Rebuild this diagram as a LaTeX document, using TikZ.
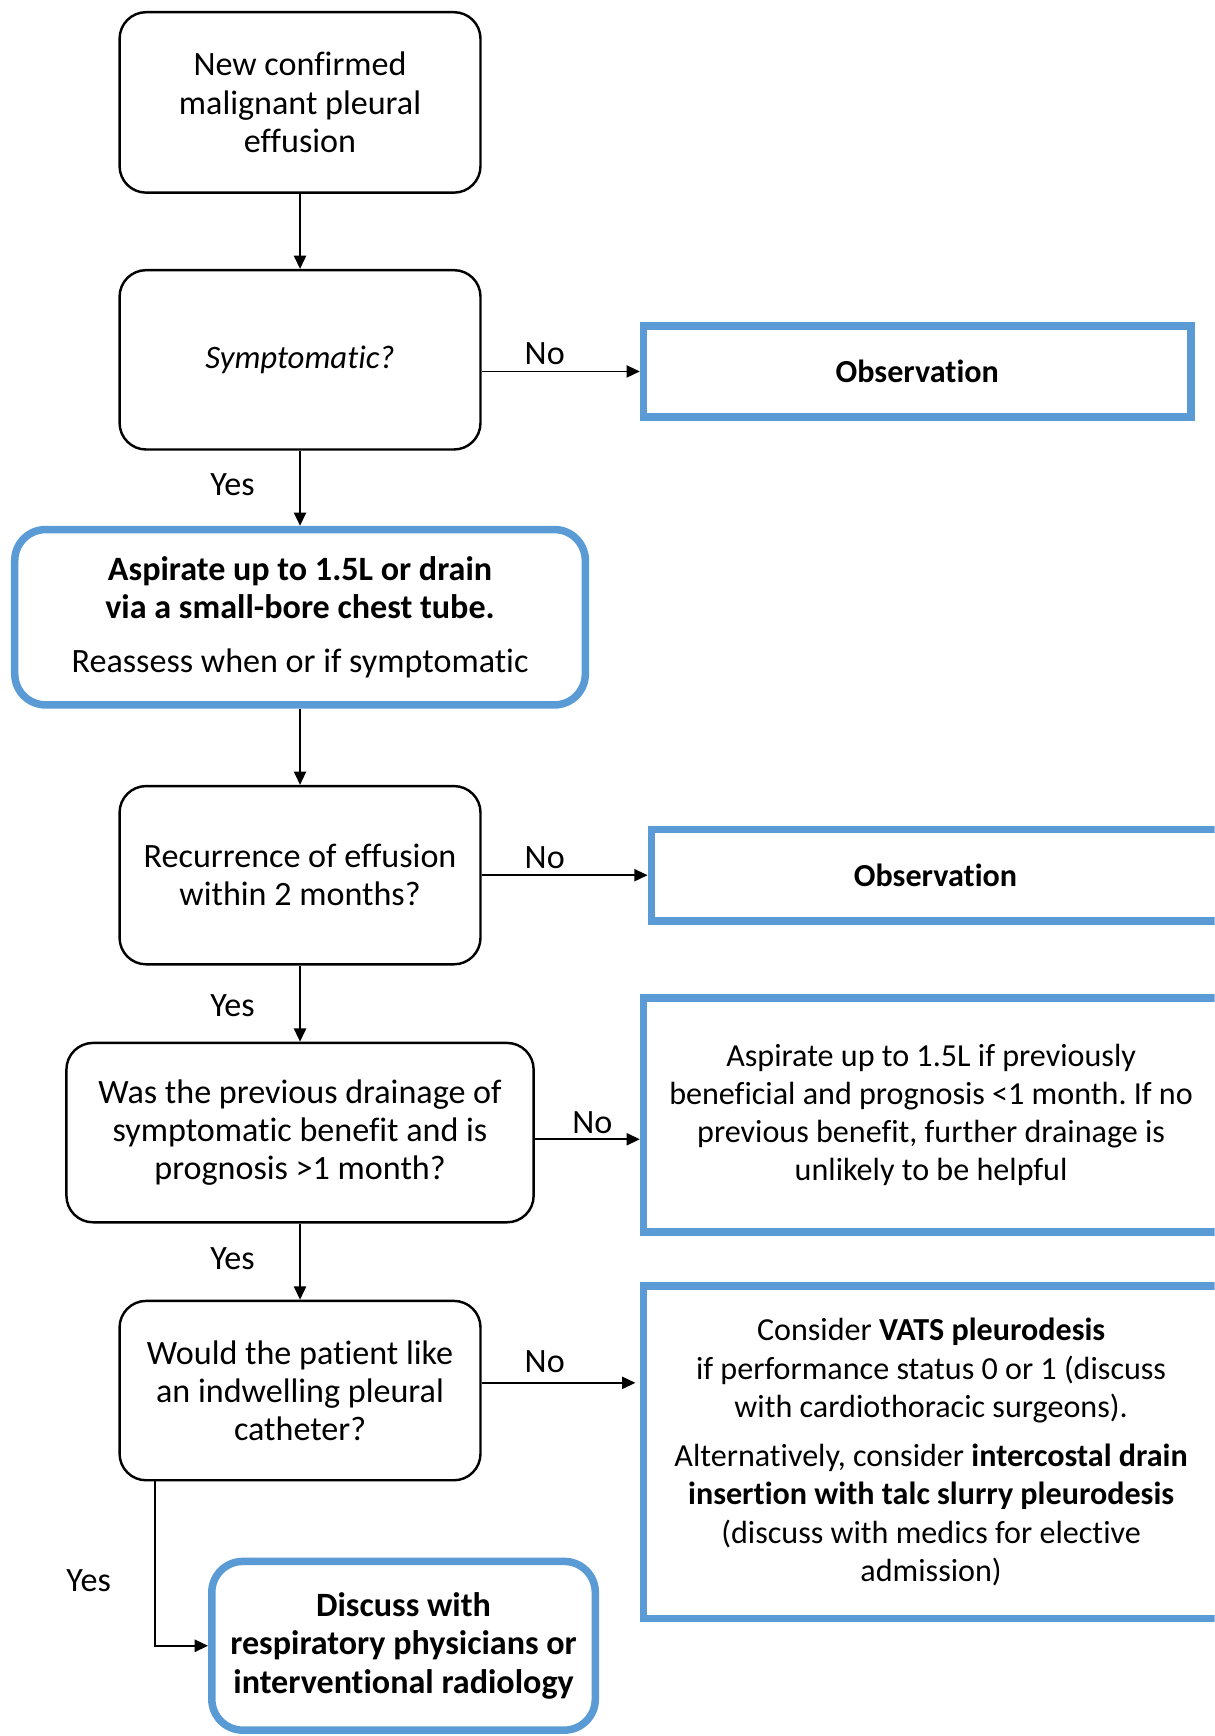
\documentclass[tikz,border=0pt]{standalone}
\usepackage{fontspec}
\setmainfont{Carlito}[Ligatures={NoCommon}]
\usetikzlibrary{arrows.meta,calc}
\definecolor{bl}{HTML}{5B9BD5}
\frenchspacing
\begin{document}
\begin{tikzpicture}[x=0.5pt,y=-0.5pt,
 every node/.style={font=\fontsize{15.4}{17.25}\selectfont},
 rfont/.style={font=\fontsize{14.5}{17.25}\selectfont},
 rbox/.style={draw, line width=1.1pt, rounded corners=12pt, align=center, inner sep=0pt},
 bbox/.style={draw=bl, line width=3.4pt, rounded corners=14pt, align=center, inner sep=0pt},
 sbox/.style={draw=bl, line width=3.4pt, align=center, inner sep=0pt, rfont},
 arr/.style={line width=0.8pt, -{Triangle[length=6pt,width=5.5pt]}},
 lbl/.style={inner sep=0pt}]
\useasboundingbox (0,0) rectangle (1097,1568);
\clip (0,0) rectangle (1097,1568);

\node[rbox, minimum width=163pt, minimum height=81.5pt] (b1) at (271,92.5)
  {New confirmed\\ malignant pleural\\ effusion};
\node[rbox, minimum width=163pt, minimum height=81pt, font=\fontsize{14.8}{17.25}\selectfont\itshape] (b2) at (271,325)
  {Symptomatic?};
\node[sbox, minimum width=247.2pt, minimum height=41.2pt] (o1) at (828.5,335.5)
  {\bfseries Observation};
\node[bbox, minimum width=257.7pt, minimum height=79.2pt] (b3) at (271,557.5)
  {\textbf{Aspirate up to 1.5L or drain}\\ \textbf{via a small-bore chest tube.}\\[7pt] Reassess when or if symptomatic};
\node[rbox, minimum width=163pt, minimum height=80.5pt] (b4) at (271,790.5)
  {Recurrence of effusion\\ within 2 months?};
\node[sbox, minimum width=256.7pt, minimum height=41.2pt] (o2) at (845,790.5)
  {\bfseries Observation};
\node[rbox, minimum width=211pt, minimum height=81pt] (b5) at (271,1023)
  {Was the previous drainage of\\ symptomatic benefit and is\\ prognosis >1 month?};
\node[sbox, minimum width=259.7pt, minimum height=105.7pt] (b6) at (841,1007)
  {Aspirate up to 1.5L if previously\\ beneficial and prognosis <1 month. If no\\ previous benefit, further drainage is\\ unlikely to be helpful};
\node[rbox, minimum width=163pt, minimum height=81pt] (b7) at (271,1256)
  {Would the patient like\\ an indwelling pleural\\ catheter?};
\node[sbox, minimum width=259.7pt, minimum height=150.2pt] (b8) at (841,1311.5)
  {Consider \textbf{VATS pleurodesis}\\ if performance status 0 or 1 (discuss\\ with cardiothoracic surgeons).\\[5pt] Alternatively, consider \textbf{intercostal drain}\\ \textbf{insertion with talc slurry pleurodesis}\\ (discuss with medics for elective\\ admission)};
\node[bbox, minimum width=173.2pt, minimum height=76.2pt] (b9) at (364.5,1486.5)
  {\textbf{Discuss with}\\ \textbf{respiratory physicians or}\\ \textbf{interventional radiology}};

\draw[arr] (b1) -- (b2);
\draw[arr] (b2.east |- o1.west) -- (o1.west);
\draw[arr] (b2) -- (b3);
\draw[arr] (b3) -- (b4);
\draw[arr] (b4.east) -- (o2.west);
\draw[arr] (b4) -- (b5);
\draw[arr] ([yshift=-3pt]b5.east) -- ([yshift=-3pt]b5.east -| b6.west);
\draw[arr] (b5) -- (b7);
\coordinate (n4) at ([yshift=3.5pt]b7.east -| b8.west);
\draw[arr] ([yshift=3.5pt]b7.east) -- ([xshift=-2pt]n4);
\draw[arr] ([xshift=-65.5pt]b7.south) |- (b9.west);

\node[lbl] (l1) at (492,319) {No};
\node[lbl] (l2) at (210,438) {Yes};
\node[lbl] (l3) at (492,775) {No};
\node[lbl] (l4) at (210,908) {Yes};
\node[lbl] (l5) at (535,1014) {No};
\node[lbl] (l6) at (210,1137) {Yes};
\node[lbl] (l7) at (492,1230) {No};
\node[lbl] (l8) at (80,1428) {Yes};
\end{tikzpicture}
\end{document}
